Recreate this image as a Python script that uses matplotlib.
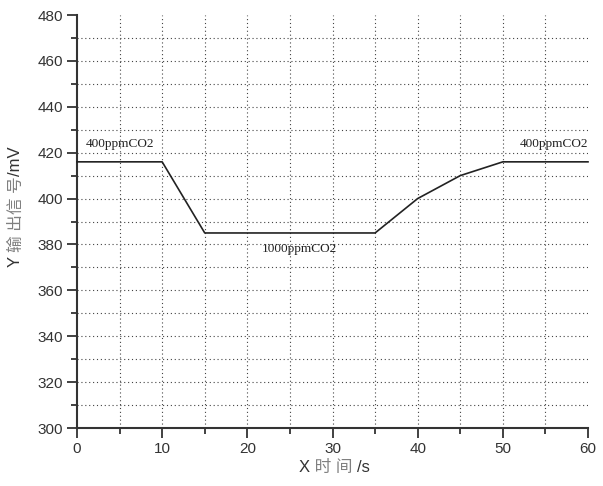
import matplotlib
matplotlib.use("Agg")
import matplotlib.pyplot as plt
from matplotlib.ticker import MultipleLocator

# data
time_s = [0, 10, 15, 35, 40, 45, 50, 60]
signal_mv = [416, 416, 385, 385, 400, 410, 416, 416]
annotations = [("400ppmCO2", 1.0, 421.2), ("1000ppmCO2", 21.7, 375.3), ("400ppmCO2", 52.0, 421.2)]
x_ticks = [0, 10, 20, 30, 40, 50, 60]
y_ticks = [300, 320, 340, 360, 380, 400, 420, 440, 460, 480]
xlabel_parts = [("X", "#333333"), (" 时 间 ", "#808080"), ("/s", "#333333")]
ylabel_parts = [("Y ", "#333333"), ("输 出信 号", "#808080"), ("/mV", "#333333")]

LAT = "Liberation Sans"
CJK = "Noto Sans CJK SC"

fig = plt.figure(figsize=(6.03, 4.86), dpi=100)
ax = fig.add_axes([77/603, 1-428/486, (588-77)/603, (428-15)/486])

ax.plot(time_s, signal_mv, color="#222222", lw=1.2, zorder=3, clip_on=False)
ax.set_xlim(0, 60)
ax.set_ylim(300, 480)

# grid (interior only)
for gx in range(5, 60, 5):
    ax.axvline(gx, color="#444444", lw=0.8, ls=(0, (1, 2.5)), zorder=1)
for gy in range(310, 480, 10):
    ax.axhline(gy, color="#444444", lw=0.8, ls=(0, (1, 2.5)), zorder=1)

ax.set_xticks(x_ticks)
ax.set_yticks(y_ticks)
ax.xaxis.set_minor_locator(MultipleLocator(5))
ax.yaxis.set_minor_locator(MultipleLocator(10))
ax.tick_params(which="major", direction="out", length=7, width=1.3, color="#333333",
               labelsize=11, labelcolor="#333333", pad=3)
ax.tick_params(which="minor", direction="out", length=4, width=1.3, color="#333333")
for lab in ax.get_xticklabels() + ax.get_yticklabels():
    lab.set_fontfamily(LAT)

for s in ["top", "right"]:
    ax.spines[s].set_visible(False)
for s in ["left", "bottom"]:
    ax.spines[s].set_linewidth(1.5)
    ax.spines[s].set_color("#333333")

for txt, x, y in annotations:
    ax.text(x, y, txt, fontsize=9.5, family="Liberation Serif", color="#222222",
            ha="left", va="bottom", zorder=4)

# composite axis labels
fig.canvas.draw()
r = fig.canvas.get_renderer()

def place(parts, x0, y0, rotation):
    texts = []
    for s, c in parts:
        t = fig.text(0, 0, s, fontsize=12, color=c, family=[LAT, CJK],
                     rotation=rotation, ha="left", va="center", rotation_mode="anchor")
        texts.append(t)
    fig.canvas.draw()
    sizes = []
    for t in texts:
        bb = t.get_window_extent(r)
        sizes.append(bb.height if rotation == 90 else bb.width)
    total = sum(sizes)
    pos = -total / 2
    for t, sz in zip(texts, sizes):
        if rotation == 90:
            t.set_position((x0 / 603, (486 - y0 + pos) / 486))
        else:
            t.set_position(((x0 + pos) / 603, (486 - y0) / 486))
        pos += sz

place(xlabel_parts, 334, 467, 0)
place(ylabel_parts, 16, 207, 90)

fig.savefig("out.png", dpi=100)
